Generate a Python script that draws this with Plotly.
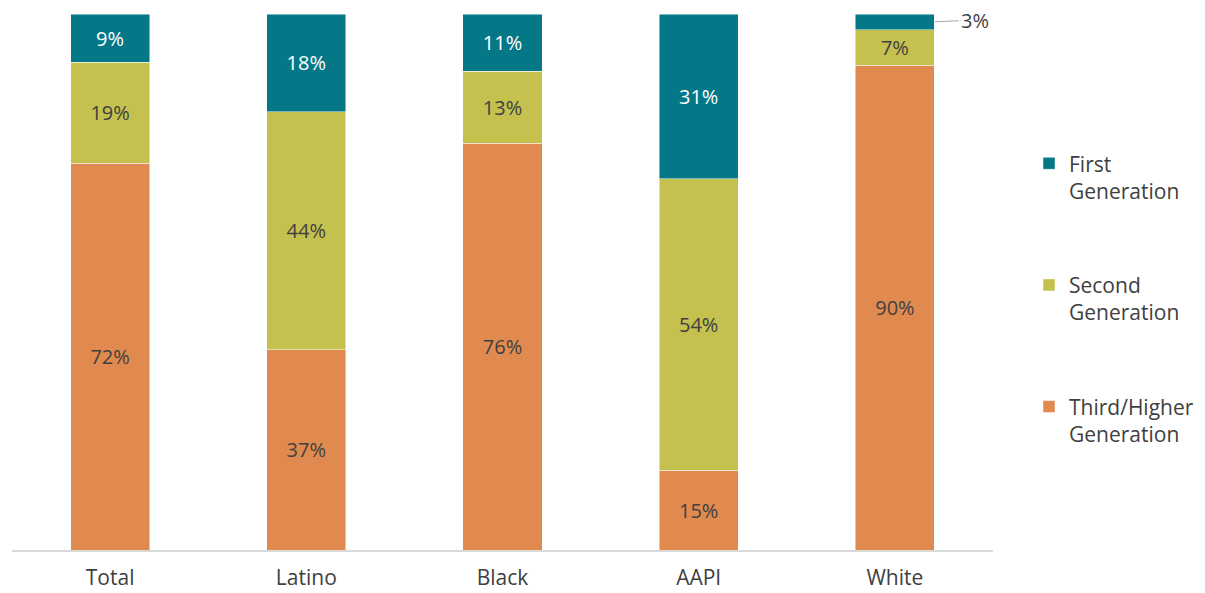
import plotly.graph_objects as go

categories = ["Total", "Latino", "Black", "AAPI", "White"]
third_higher = [72.2, 37.4, 75.9, 14.9, 90.4]
second_gen = [18.8, 44.4, 13.4, 54.4, 6.7]
first_gen = [9.0, 18.2, 10.7, 30.7, 2.9]

series = [
    ("Third/Higher<br>Generation", third_higher, "#E08A50", "#404040", 3),
    ("Second<br>Generation", second_gen, "#C5C14F", "#404040", 2),
    ("First<br>Generation", first_gen, "#057887", "#FFFFFF", 1),
]

FONT = "'Open Sans', Lato, sans-serif"

fig = go.Figure()
for i, (name, vals, color, tcolor, rank) in enumerate(series):
    texts = [("" if v < 4 else f"{round(v)}%") for v in vals]
    fig.add_trace(go.Bar(
        x=categories, y=vals, name=name,
        marker=dict(color=color, line=dict(color="rgba(255,255,255,0.6)", width=0.8)),
        text=texts, textposition="inside", insidetextanchor="middle", textangle=0,
        textfont=dict(family=FONT, size=20, color=tcolor),
        legendgroup=f"g{i}", legendrank=rank, hoverinfo="skip",
    ))

# outside label for the small White first-generation segment
wi = categories.index("White")
y_small = third_higher[wi] + second_gen[wi] + first_gen[wi] / 2
fig.add_annotation(
    x=wi + 0.203, y=y_small, xref="x", yref="y",
    text=f"{round(first_gen[wi])}%", showarrow=True, arrowhead=0, arrowwidth=1.2,
    arrowcolor="#A6A6A6", ax=24, ay=-1, xanchor="left",
    font=dict(family=FONT, size=20, color="#404040"),
)

fig.update_layout(
    barmode="stack", bargap=0.597,
    width=1197, height=585,
    margin=dict(l=4, r=212, t=6, b=43),
    paper_bgcolor="white", plot_bgcolor="white",
    font=dict(family=FONT, color="#404040"),
    showlegend=True,
    legend=dict(
        x=1.0367, y=0.759, xanchor="left", yanchor="top",
        traceorder="grouped", tracegroupgap=64, valign="top",
        font=dict(family=FONT, size=21, color="#404040"),
        itemwidth=30,
    ),
    xaxis=dict(
        showline=True, linecolor="#D9D9D9", linewidth=1.5,
        ticks="outside", ticklen=8, tickcolor="rgba(0,0,0,0)",
        tickfont=dict(family=FONT, size=21, color="#404040"),
        showgrid=False, automargin=False,
    ),
    yaxis=dict(range=[0, 100], visible=False, showgrid=False, automargin=False),
)

fig.write_html("out.html")
